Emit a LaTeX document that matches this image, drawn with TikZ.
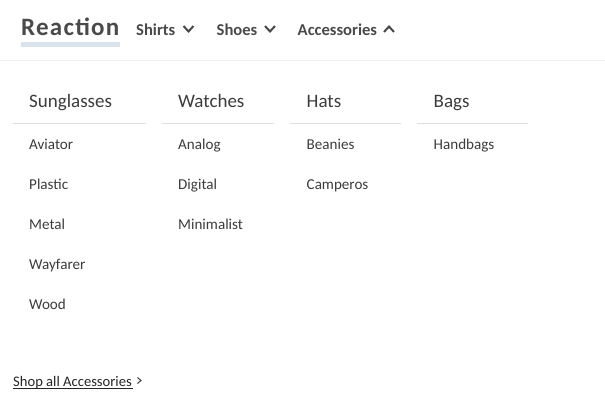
\documentclass[tikz,border=0pt]{standalone}
\usepackage{fontspec}
\setmainfont{Carlito}
\definecolor{inkgray}{HTML}{3C3C3C}
\definecolor{navgray}{HTML}{4A4A4A}
\definecolor{rulegray}{HTML}{DEDEDE}
\definecolor{logoblue}{HTML}{D8E3EC}
\tikzset{
  navitem/.style={anchor=base west,inner sep=0pt,text=navgray,font=\fontsize{16.6}{18}\selectfont\bfseries},
  headitem/.style={anchor=base west,inner sep=0pt,text=inkgray,font=\fontsize{19}{22}\selectfont},
  linkitem/.style={anchor=base west,inner sep=0pt,text=inkgray,font=\fontsize{15.1}{18}\selectfont},
  chev/.style={draw=navgray,line width=2pt},
  headrule/.style={draw=rulegray,line width=0.8pt}
}
\begin{document}
\begin{tikzpicture}[x=1pt,y=-1pt]
\useasboundingbox (0,0) rectangle (605,418);
\fill[white] (0,0) rectangle (605,418);
% top bar
\fill[logoblue] (21,42) rectangle (120,47);
\node[anchor=base west,inner sep=0pt,text=navgray,font=\fontsize{25}{28}\selectfont\bfseries] (logo) at (21,35) {\addfontfeatures{LetterSpace=5}Reaction};
\node[navitem] (shirts) at (136,35) {Shirts};
\node[navitem] (shoes) at (216.5,35) {Shoes};
\node[navitem] (accessories) at (297.5,35) {Accessories};
\draw[chev] (183.5,26) -- (188.5,31.5) -- (193.5,26);
\draw[chev] (265,26) -- (270,31.5) -- (275,26);
\draw[chev] (384,32) -- (389,26.5) -- (394,32);
\draw[draw=black!6,line width=0.8pt] (0,60.5) -- (605,60.5);
% columns
\node[headitem] (sunglasses) at (29,107) {Sunglasses};
\node[headitem] (watches) at (178,107) {Watches};
\node[headitem] (hats) at (306.5,107) {Hats};
\node[headitem] (bags) at (433.5,107) {Bags};
\draw[headrule] (13,123.5) -- (146,123.5);
\draw[headrule] (162,123.5) -- (274,123.5);
\draw[headrule] (290,123.5) -- (401,123.5);
\draw[headrule] (417,123.5) -- (528,123.5);
\node[linkitem] (aviator) at (29,149) {Aviator};
\node[linkitem] (plastic) at (29,189) {Plastic};
\node[linkitem] (metal) at (29,229) {Metal};
\node[linkitem] (wayfarer) at (29,269) {Wayfarer};
\node[linkitem] (wood) at (29,309) {Wood};
\node[linkitem] (analog) at (178,149) {Analog};
\node[linkitem] (digital) at (178,189) {Digital};
\node[linkitem] (minimalist) at (178,229) {Minimalist};
\node[linkitem] (beanies) at (306.5,149) {Beanies};
\node[linkitem] (camperos) at (306.5,189) {Camperos};
\node[linkitem] (handbags) at (433.5,149) {Handbags};
% footer link
\node[linkitem,text=black!85,font=\fontsize{14.6}{18}\selectfont] (shopall) at (13,386) {Shop all Accessories};
\draw[draw=black!85,line width=0.7pt] (13,388.5) -- (133,388.5);
\draw[draw=inkgray,line width=1pt] (137.5,377.5) -- (141,380.5) -- (137.5,383.5);
\end{tikzpicture}
\end{document}
